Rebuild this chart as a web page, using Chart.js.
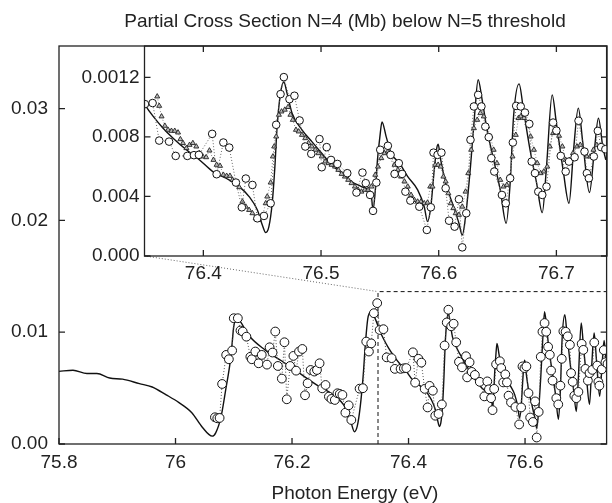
<!DOCTYPE html>
<html>
<head>
<meta charset="utf-8">
<script src="https://cdn.jsdelivr.net/npm/chart.js@4.4.1/dist/chart.umd.min.js"></script>
<style>
html, body { margin: 0; padding: 0; background: #fff; }
#wrap { position: relative; width: 612px; height: 503px; }
#wrap canvas { position: absolute; left: 0; top: 0; }
</style>
</head>
<body>
<div id="wrap">
	<canvas id="mainChart" width="612" height="503"></canvas>
	<canvas id="insetChart" width="612" height="503"></canvas>
</div>
<script>
//Textos
var chartTitle = 'Partial Cross Section N=4 (Mb) below N=5 threshold';
var xTitle = 'Photon Energy (eV)';

//Ejes del grafico principal
var mainXTicks = [75.8, 76, 76.2, 76.4, 76.6];
var mainXLabels = ['75.8', '76', '76.2', '76.4', '76.6'];
var mainYTicks = [0, 0.01, 0.02, 0.03];
var mainYLabels = ['0.00', '0.01', '0.02', '0.03'];

//Ejes del recuadro ampliado
var insetXTicks = [76.4, 76.5, 76.6, 76.7];
var insetXLabels = ['76.4', '76.5', '76.6', '76.7'];
var insetYTicks = [0, 0.004, 0.008, 0.012];
var insetYLabels = ['0.000', '0.004', '0.008', '0.0012'];

//Curva teorica (linea continua)
var thX = [75.800, 75.824, 75.848, 75.865, 75.887, 75.909, 75.938, 75.960, 75.984, 76.006,
	76.028, 76.046, 76.063, 76.069, 76.078, 76.086, 76.095, 76.100, 76.105, 76.112,
	76.126, 76.154, 76.183, 76.211, 76.245, 76.268, 76.291, 76.302, 76.307, 76.312,
	76.317, 76.322, 76.326, 76.330, 76.335, 76.342, 76.3504, 76.3574, 76.3658, 76.3743,
	76.3856, 76.3968, 76.408, 76.4193, 76.4305, 76.4389, 76.4459, 76.4501, 76.453, 76.4557,
	76.4585, 76.4608, 76.4627, 76.4656, 76.4684, 76.4711, 76.4754, 76.4838, 76.4922, 76.5006,
	76.509, 76.5175, 76.5259, 76.5343, 76.54, 76.5428, 76.5442, 76.5461, 76.548, 76.55,
	76.5518, 76.5554, 76.5596, 76.5667, 76.5737, 76.5821, 76.5877, 76.5905, 76.5933, 76.5962,
	76.5981, 76.5995, 76.6017, 76.6059, 76.6116, 76.6172, 76.62, 76.6228, 76.627, 76.6304,
	76.6335, 76.6369, 76.6411, 76.6467, 76.6523, 76.6573, 76.6607, 76.6636, 76.6683, 76.672,
	76.6776, 76.6832, 76.688, 76.6916, 76.6964, 76.70, 76.7057, 76.7107, 76.7146, 76.7186,
	76.7225, 76.7281, 76.7323, 76.7357, 76.7394, 76.742];
var thY = [0.0065, 0.0066, 0.0063, 0.0063, 0.0059, 0.0058, 0.0054, 0.0051, 0.0044, 0.0037,
	0.0028, 0.0015, 0.0007, 0.0010, 0.0024, 0.0048, 0.0078, 0.0105, 0.0113, 0.0109,
	0.0097, 0.0084, 0.0074, 0.0064, 0.0052, 0.0045, 0.0033, 0.0018, 0.0011, 0.0016,
	0.0033, 0.0060, 0.0090, 0.0112, 0.0118, 0.0113, 0.01015, 0.00937, 0.00858, 0.00791,
	0.00713, 0.00645, 0.00567, 0.00522, 0.00466, 0.00399, 0.00309, 0.00208, 0.00157, 0.00197,
	0.00354, 0.0060, 0.00869, 0.01094, 0.01168, 0.01094, 0.00959, 0.00847, 0.00768, 0.0069,
	0.00612, 0.00556, 0.0050, 0.00466, 0.00444, 0.00399, 0.0031, 0.0044, 0.0065, 0.0080,
	0.0090, 0.0080, 0.0069, 0.00623, 0.00533, 0.00444, 0.00331, 0.00231, 0.00331, 0.00578,
	0.00713, 0.0075, 0.00645, 0.00489, 0.00354, 0.0022, 0.00141, 0.00264, 0.0060, 0.00937,
	0.01183, 0.01049, 0.00847, 0.00645, 0.00444, 0.0022, 0.00489, 0.00937, 0.01156, 0.00982,
	0.00713, 0.00489, 0.00291, 0.0060, 0.01082, 0.00892, 0.00578, 0.00354, 0.00713, 0.00993,
	0.00757, 0.00426, 0.00713, 0.00926, 0.00735, 0.00645];

//Medidas (circulos)
var expX = [76.0677, 76.0717, 76.0757, 76.080, 76.087, 76.0916, 76.0972, 76.100, 76.107, 76.1115,
	76.1154, 76.1217, 76.1285, 76.131, 76.137, 76.1427, 76.148, 76.157, 76.1615, 76.1666,
	76.1712, 76.1757, 76.1825, 76.187, 76.191, 76.1967, 76.2024, 76.207, 76.212, 76.2177,
	76.2223, 76.2268, 76.232, 76.2382, 76.2428, 76.2473, 76.2518, 76.2575, 76.2633, 76.2677,
	76.2735, 76.278, 76.282, 76.2865, 76.2916, 76.2973, 76.3018, 76.316, 76.3217, 76.3274,
	76.332, 76.336, 76.3405, 76.3462, 76.3504, 76.3569, 76.3625, 76.3709, 76.3765, 76.3864,
	76.392, 76.3962, 76.4075, 76.4113, 76.417, 76.422, 76.4277, 76.4327, 76.4361, 76.4417,
	76.4459, 76.4515, 76.4572, 76.4619, 76.4656, 76.4684, 76.4732, 76.4774, 76.4818, 76.4866,
	76.4917, 76.4987, 76.5006, 76.5048, 76.5085, 76.5139, 76.5223, 76.5301, 76.5352, 76.538,
	76.5417, 76.5442, 76.547, 76.5503, 76.5568, 76.5591, 76.5625, 76.5661, 76.5689, 76.5717,
	76.5759, 76.5835, 76.5899, 76.5933, 76.5956, 76.599, 76.6023, 76.6059, 76.6088, 76.6135,
	76.6172, 76.62, 76.6234, 76.627, 76.6299, 76.6335, 76.6363, 76.6396, 76.6425, 76.6447,
	76.6472, 76.6537, 76.657, 76.6607, 76.663, 76.6658, 76.6697, 76.6733, 76.677, 76.679,
	76.6818, 76.6846, 76.688, 76.6916, 76.6972, 76.70, 76.7037, 76.7079, 76.7107, 76.7155,
	76.7188, 76.7239, 76.7259, 76.7276, 76.7318, 76.7352, 76.738, 76.7416];
var expY = [0.00239, 0.0023, 0.00233, 0.00537, 0.00797, 0.00758, 0.00836, 0.01125, 0.01125, 0.01015,
	0.01006, 0.0096, 0.0078, 0.00758, 0.00827, 0.00722, 0.00797, 0.0071, 0.00865, 0.00818,
	0.01006, 0.00698, 0.00585, 0.0091, 0.0040, 0.00698, 0.00788, 0.00656, 0.00827, 0.0085,
	0.00436, 0.00543, 0.00662, 0.00648, 0.00662, 0.00722, 0.00498, 0.00528, 0.00424, 0.00403,
	0.00394, 0.00454, 0.00448, 0.00439, 0.0028, 0.00346, 0.00215, 0.00495, 0.00499, 0.00916,
	0.00827, 0.0090, 0.0117, 0.0126, 0.0102, 0.01027, 0.00775, 0.00768, 0.00672, 0.00672,
	0.00677, 0.00679, 0.0082, 0.00549, 0.00762, 0.00728, 0.00493, 0.00327, 0.0052, 0.00477,
	0.00253, 0.00269, 0.00354, 0.00881, 0.01087, 0.01201, 0.01053, 0.01076, 0.0091, 0.00735,
	0.00686, 0.00785, 0.00596, 0.00731, 0.00645, 0.00618, 0.00556, 0.00426, 0.0056, 0.00489,
	0.0041, 0.00303, 0.00493, 0.00713, 0.0074, 0.00679, 0.00551, 0.00623, 0.00551, 0.00432,
	0.00372, 0.00331, 0.00175, 0.00327, 0.00694, 0.00679, 0.00694, 0.00455, 0.00237, 0.00197,
	0.00381, 0.00058, 0.00287, 0.0078, 0.01004, 0.01082, 0.01004, 0.00869, 0.00798, 0.00657,
	0.00567, 0.0041, 0.00354, 0.00522, 0.00762, 0.01008, 0.01004, 0.00963, 0.00887, 0.00634,
	0.00556, 0.00432, 0.0041, 0.00466, 0.00896, 0.00842, 0.00672, 0.00567, 0.00634, 0.00663,
	0.00908, 0.00701, 0.00556, 0.00522, 0.00668, 0.0084, 0.00731, 0.00717];

//Medidas (triangulos, solo en el recuadro)
var triX = [76.3608, 76.3625, 76.3645, 76.3673, 76.370, 76.3729, 76.3757, 76.3785, 76.3805, 76.3827,
	76.3856, 76.3883, 76.3911, 76.394, 76.3968, 76.3995, 76.4024, 76.4052, 76.4086, 76.4113,
	76.4142, 76.417, 76.4198, 76.4226, 76.4248, 76.4277, 76.4305, 76.4332, 76.4361, 76.4389,
	76.4417, 76.4445, 76.4473, 76.4501, 76.453, 76.4543, 76.4572, 76.4591, 76.4602, 76.4619,
	76.4642, 76.4664, 76.4692, 76.472, 76.474, 76.476, 76.4787, 76.481, 76.4838, 76.4866,
	76.4894, 76.4922, 76.4951, 76.4978, 76.5006, 76.5035, 76.5063, 76.509, 76.5119, 76.5147,
	76.5175, 76.5203, 76.5231, 76.5259, 76.5288, 76.5315, 76.5343, 76.5372, 76.540, 76.5428,
	76.5461, 76.5484, 76.5512, 76.554, 76.5568, 76.5596, 76.5625, 76.5653, 76.568, 76.5709,
	76.5737, 76.5765, 76.5793, 76.5821, 76.5849, 76.5877, 76.5905, 76.5928, 76.5947, 76.597,
	76.5995, 76.6017, 76.604, 76.6059, 76.6082, 76.6102, 76.6124, 76.6144, 76.6172, 76.620,
	76.6228, 76.6251, 76.6276, 76.6299, 76.6327, 76.6354, 76.6383, 76.6411, 76.6439, 76.6467,
	76.6495, 76.6523, 76.6551, 76.6579, 76.6602, 76.6627, 76.6655, 76.6678, 76.6697, 76.6725,
	76.6754, 76.6781, 76.6809, 76.6838, 76.6866, 76.6893, 76.6922, 76.6944, 76.6972, 76.6995,
	76.7023, 76.7051, 76.7079, 76.7112, 76.7141, 76.7175, 76.7203, 76.723, 76.7259, 76.7287,
	76.7315, 76.7343, 76.7371, 76.7399, 76.7427];
var triY = [0.01071, 0.01008, 0.00937, 0.00874, 0.00847, 0.0084, 0.0084, 0.00829, 0.00784, 0.00758,
	0.00724, 0.00746, 0.00758, 0.00735, 0.0069, 0.00668, 0.00663, 0.00708, 0.00645, 0.00612,
	0.00605, 0.00545, 0.00538, 0.00538, 0.00511, 0.00493, 0.00462, 0.00365, 0.00331, 0.00309,
	0.00287, 0.00253, 0.00242, 0.00264, 0.00354, 0.00399, 0.00493, 0.00668, 0.00735, 0.00802,
	0.00948, 0.0097, 0.00982, 0.0100, 0.00948, 0.00914, 0.00847, 0.00836, 0.00813, 0.00791,
	0.00758, 0.00735, 0.00713, 0.0069, 0.00668, 0.00634, 0.00623, 0.00612, 0.0060, 0.00578,
	0.00551, 0.00533, 0.00511, 0.00489, 0.00466, 0.00444, 0.00432, 0.00444, 0.00444, 0.00466,
	0.00545, 0.0060, 0.00657, 0.0069, 0.00701, 0.00668, 0.00612, 0.00578, 0.00533, 0.0050,
	0.00466, 0.0041, 0.00376, 0.00365, 0.00365, 0.00354, 0.00358, 0.00466, 0.00466, 0.00612,
	0.00612, 0.0060, 0.00533, 0.0050, 0.00421, 0.00354, 0.00321, 0.00287, 0.00276, 0.00331,
	0.00432, 0.00556, 0.00713, 0.00858, 0.00914, 0.00959, 0.00937, 0.00869, 0.00802, 0.00713,
	0.00623, 0.00511, 0.00466, 0.00477, 0.00533, 0.00668, 0.00813, 0.00926, 0.00937, 0.00926,
	0.00892, 0.00802, 0.00713, 0.00623, 0.00556, 0.00567, 0.0060, 0.00735, 0.00825, 0.00836,
	0.00807, 0.00735, 0.00645, 0.00645, 0.0069, 0.00735, 0.00746, 0.00713, 0.00668, 0.00668,
	0.00713, 0.00746, 0.00735, 0.00724, 0.00713];

//Lineas que señalan la zona ampliada
var zoomX = [75.9459, 76.3476];
var zoomY = [0.01683, 0.01363];
var markX = [76.3476, 76.3476, 76.74];
var markY = [0, 0.01363, 0.01363];

var FONT = { family: '"Liberation Sans", Arial, Helvetica, sans-serif', size: 19 };
var INK = '#222';

function pts(xs, ys, xMin) {
	var out = [];
	for (var i = 0; i < xs.length; i++) {
		if (xMin === undefined || xs[i] >= xMin) {
			out.push({ x: xs[i], y: ys[i] });
		}
	}
	return out;
}

function fixedTicks(list) {
	return function(scale) {
		scale.ticks = list.map(function(v) { return { value: v }; });
	};
}

//Marco y marcas de los ejes hacia dentro
var frameTicks = {
	id: 'frameTicks',
	afterDatasetsDraw: function(chart, args, opts) {
		var ctx = chart.ctx;
		var a = chart.chartArea;
		var xs = chart.scales.x;
		var ys = chart.scales.y;
		var len = 6;
		ctx.save();
		ctx.strokeStyle = INK;
		ctx.lineWidth = 1.3;
		ctx.setLineDash([]);
		ctx.strokeRect(a.left, a.top, a.right - a.left, a.bottom - a.top);
		ctx.beginPath();
		xs.ticks.forEach(function(t) {
			var px = xs.getPixelForValue(t.value);
			ctx.moveTo(px, a.bottom);
			ctx.lineTo(px, a.bottom - len);
			if (opts.top) {
				ctx.moveTo(px, a.top);
				ctx.lineTo(px, a.top + len);
			}
		});
		ys.ticks.forEach(function(t) {
			var py = ys.getPixelForValue(t.value);
			ctx.moveTo(a.left, py);
			ctx.lineTo(a.left + len, py);
			if (opts.right) {
				ctx.moveTo(a.right, py);
				ctx.lineTo(a.right - len, py);
			}
		});
		ctx.stroke();
		ctx.restore();
	}
};

//Titulo y titulo del eje X
var textLabels = {
	id: 'textLabels',
	afterDraw: function(chart) {
		var ctx = chart.ctx;
		ctx.save();
		ctx.fillStyle = INK;
		ctx.font = FONT.size + 'px ' + FONT.family;
		ctx.textAlign = 'center';
		ctx.textBaseline = 'alphabetic';
		ctx.fillText(chartTitle, 345, 27);
		ctx.fillText(xTitle, 355, 499);
		ctx.restore();
	}
};

function axisOpts(min, max, tickList, labelList, pad, size, isX) {
	var o = {
		type: 'linear',
		min: min,
		max: max,
		grid: { display: false, drawTicks: false },
		border: { display: false },
		afterBuildTicks: fixedTicks(tickList),
		ticks: {
			font: FONT,
			color: INK,
			padding: pad,
			autoSkip: false,
			maxRotation: 0,
			callback: function(v, i) { return labelList[i]; }
		}
	};
	if (isX) {
		o.afterFit = function(s) { s.height = size; };
	} else {
		o.afterFit = function(s) { s.width = size; };
	}
	return o;
}

var mainChart = new Chart(document.getElementById('mainChart'), {
	type: 'scatter',
	data: {
		datasets: [
			{
				data: pts(expX, expY),
				showLine: true,
				borderColor: '#555',
				borderWidth: 1,
				borderDash: [1, 2],
				pointRadius: 4.4,
				pointBackgroundColor: '#fff',
				pointBorderColor: '#111',
				pointBorderWidth: 1
			},
			{
				data: pts(thX, thY),
				showLine: true,
				borderColor: '#111',
				borderWidth: 1.4,
				pointRadius: 0,
				cubicInterpolationMode: 'monotone'
			},
			{
				data: pts(zoomX, zoomY),
				showLine: true,
				borderColor: '#666',
				borderWidth: 1,
				borderDash: [1, 2],
				pointRadius: 0
			},
			{
				data: pts(markX, markY),
				showLine: true,
				borderColor: '#111',
				borderWidth: 1,
				borderDash: [4, 3],
				pointRadius: 0
			}
		]
	},
	options: {
		responsive: false,
		animation: false,
		events: [],
		layout: { padding: { top: 46, right: 2, left: 0, bottom: 0 } },
		plugins: {
			legend: { display: false },
			tooltip: { enabled: false },
			frameTicks: { top: false, right: true }
		},
		scales: {
			x: axisOpts(75.8, 76.74, mainXTicks, mainXLabels, 7, 59, true),
			y: axisOpts(0, 0.0356, mainYTicks, mainYLabels, 11, 59, false)
		}
	},
	plugins: [frameTicks, textLabels]
});

var insetChart = new Chart(document.getElementById('insetChart'), {
	type: 'scatter',
	data: {
		datasets: [
			{
				data: pts(expX, expY, 76.35),
				showLine: true,
				borderColor: '#666',
				borderWidth: 1,
				borderDash: [1, 2],
				pointRadius: 3.8,
				pointBackgroundColor: '#fff',
				pointBorderColor: '#111',
				pointBorderWidth: 1
			},
			{
				data: pts(triX, triY),
				showLine: true,
				borderColor: '#888',
				borderWidth: 1,
				borderDash: [1, 2],
				pointStyle: 'triangle',
				pointRadius: 2.9,
				pointBackgroundColor: '#bbb',
				pointBorderColor: '#222',
				pointBorderWidth: 0.9
			},
			{
				data: pts(thX, thY),
				showLine: true,
				borderColor: '#111',
				borderWidth: 1.4,
				pointRadius: 0,
				cubicInterpolationMode: 'monotone'
			}
		]
	},
	options: {
		responsive: false,
		animation: false,
		events: [],
		layout: { padding: { top: 46, right: 2, left: 0, bottom: 0 } },
		plugins: {
			legend: { display: false },
			tooltip: { enabled: false },
			frameTicks: { top: true, right: true }
		},
		scales: {
			x: axisOpts(76.35, 76.743, insetXTicks, insetXLabels, 6, 247, true),
			y: axisOpts(0, 0.0141, insetYTicks, insetYLabels, 5, 144.5, false)
		}
	},
	plugins: [frameTicks]
});
</script>
</body>
</html>
